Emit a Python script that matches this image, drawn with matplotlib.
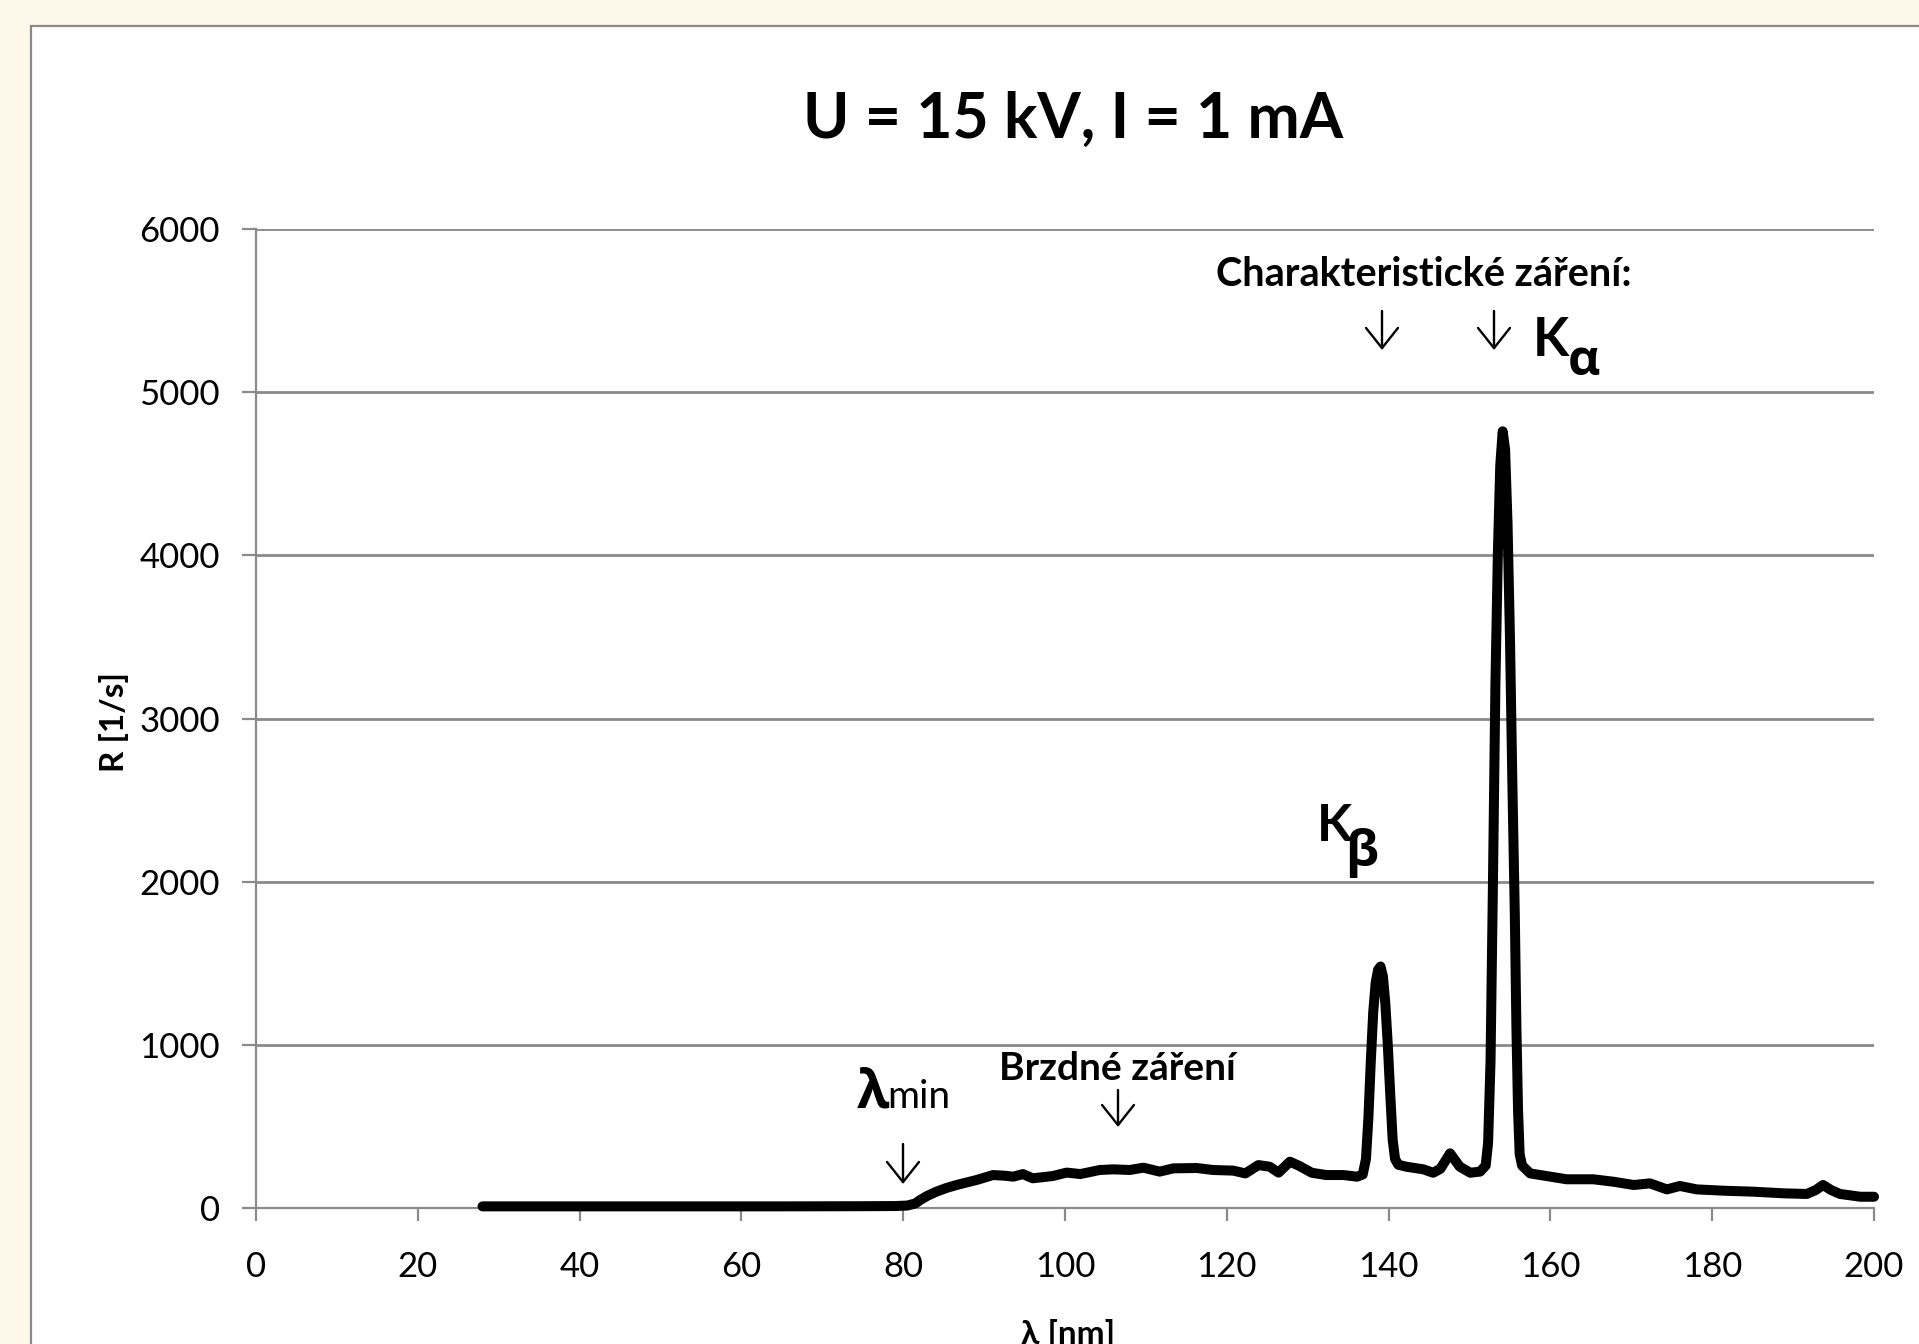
import matplotlib
matplotlib.use("Agg")
import matplotlib.pyplot as plt
from matplotlib.patches import Rectangle, FancyArrowPatch

# ---------------- data ----------------
wavelength_nm = [
    28, 35, 45, 55, 65, 75, 79, 80.5, 81.5, 82.1,
    83, 84.1, 85.3, 86.6, 89.1, 91.1, 92.5, 93.6, 94.8, 96.0,
    98.5, 100.2, 101.9, 104.3, 106.0, 108.0, 109.7, 111.7, 113.4, 116.3,
    118.3, 120.8, 122.3, 123.9, 125.3, 126.4, 127.8, 129.0, 130.5, 132.3,
    134.4, 136.1, 136.8, 137.2, 137.5, 137.8, 138.1, 138.4, 138.7, 139.0,
    139.3, 139.6, 139.9, 140.2, 140.5, 140.8, 141.2, 142.2, 144.3, 145.5,
    146.4, 147.6, 148.8, 150.1, 151.3, 152.0, 152.3, 152.6, 152.9, 153.2,
    153.5, 153.8, 154.1, 154.4, 154.7, 155.0, 155.3, 155.6, 155.8, 156.0,
    156.2, 156.5, 157.5, 159.5, 162.0, 165.3, 167.8, 170.3, 172.3, 174.4,
    176.0, 178.1, 181.4, 185.1, 188.8, 191.7, 192.8, 193.7, 194.7, 195.8,
    198.3, 200.0,
]
rate_per_s = [
    10, 10, 10, 10, 10, 11, 12, 15, 28, 49,
    75, 100, 122, 141, 172, 202, 198, 192, 208, 182,
    196, 217, 208, 233, 237, 233, 247, 223, 243, 245,
    233, 229, 212, 263, 253, 217, 284, 257, 216, 202,
    202, 192, 205, 300, 550, 900, 1200, 1380, 1460, 1480,
    1420, 1250, 1000, 700, 420, 300, 265, 253, 237, 216,
    240, 335, 253, 216, 223, 260, 400, 900, 2000, 3200,
    4000, 4550, 4760, 4650, 4200, 3500, 2600, 1800, 1100, 600,
    330, 260, 212, 196, 176, 176, 161, 141, 151, 114,
    135, 114, 106, 100, 90, 86, 110, 141, 110, 86,
    69, 69,
]
x_ticks = [0, 20, 40, 60, 80, 100, 120, 140, 160, 180, 200]
y_ticks = [0, 1000, 2000, 3000, 4000, 5000, 6000]

title_text = "U = 15 kV, I = 1 mA"
x_label = "λ [nm]"
y_label = "R [1/s]"

# ---------------- figure ----------------
W, H = 1919, 1344
GRID = "#8a8a8a"
plt.rcParams["font.family"] = ["Lato", "Open Sans", "DejaVu Sans"]
GREEK = ["Open Sans", "DejaVu Sans"]

fig = plt.figure(figsize=(W / 100, H / 100), dpi=100)
fig.patch.set_facecolor("#FEF8EA")


def fx(px):
    return px / W


def fy(py):
    return 1 - py / H


panel = Rectangle((fx(31), fy(1500)), fx(2100), (1500 - 26) / H,
                  transform=fig.transFigure, facecolor="white",
                  edgecolor=GRID, lw=1.6, zorder=-5)
fig.patches.append(panel)

ax = fig.add_axes([fx(256), fy(1208), fx(1874) - fx(256), (1208 - 229) / H])
ax.set_zorder(2)
ax.set_facecolor("none")
ax.set_xlim(0, 200)
ax.set_ylim(0, 6000)
ax.set_xticks(x_ticks)
ax.set_yticks(y_ticks)
ax.set_axisbelow(True)
ax.grid(axis="y", color=GRID, lw=2.0)
ax.grid(axis="x", visible=False)
for s in ["top", "right"]:
    ax.spines[s].set_visible(False)
for s in ["left", "bottom"]:
    ax.spines[s].set_color(GRID)
    ax.spines[s].set_linewidth(1.6)
ax.tick_params(axis="x", direction="out", length=9, width=1.6, color=GRID,
               labelsize=25, pad=22)
ax.tick_params(axis="y", direction="out", length=10, width=1.6, color=GRID,
               labelsize=25, pad=16)

ax.plot(wavelength_nm, rate_per_s, color="black", lw=7.2,
        solid_joinstyle="round", solid_capstyle="round", zorder=3,
        clip_on=False)

# ---------------- texts ----------------
fig.text(fx(1073), fy(138), title_text, ha="center", va="baseline",
         fontsize=45, fontweight="bold")
fig.text(fx(114), fy(722), y_label, rotation=90, ha="center", va="center",
         fontsize=24, fontweight="bold")
fig.text(fx(1068), fy(1319), x_label, ha="center", va="top",
         fontsize=24, fontweight="bold")

fig.text(fx(1424), fy(286), "Charakteristické záření:", ha="center",
         va="baseline", fontsize=28.5, fontweight="bold")
fig.text(fx(1533), fy(356), "K", ha="left", va="baseline", fontsize=38,
         fontweight="bold")
fig.text(fx(1568), fy(375), "α", ha="left", va="baseline", fontsize=36,
         fontweight="bold", family=GREEK)
fig.text(fx(1317), fy(841), "K", ha="left", va="baseline", fontsize=37,
         fontweight="bold")
fig.text(fx(1345), fy(866), "β", ha="left", va="baseline", fontsize=36,
         fontweight="bold", family=GREEK)
fig.text(fx(857), fy(1107), "λ", ha="left", va="baseline", fontsize=38,
         fontweight="bold", family=GREEK)
fig.text(fx(887), fy(1108), "min", ha="left", va="baseline", fontsize=28)
fig.text(fx(1117), fy(1080), "Brzdné záření", ha="center", va="baseline",
         fontsize=28, fontweight="bold")


def arrow(x, top, tip):
    fig.add_artist(FancyArrowPatch(
        (fx(x), fy(top)), (fx(x), fy(tip)), transform=fig.transFigure,
        arrowstyle="->,head_length=1.45,head_width=1.15", lw=1.7,
        color="black", shrinkA=0, shrinkB=0, mutation_scale=10, zorder=5))


arrow(1382, 311, 350)
arrow(1494, 311, 350)
arrow(903, 1144, 1184)
arrow(1118, 1090, 1127)

fig.savefig("out.png", dpi=100, facecolor=fig.get_facecolor())
